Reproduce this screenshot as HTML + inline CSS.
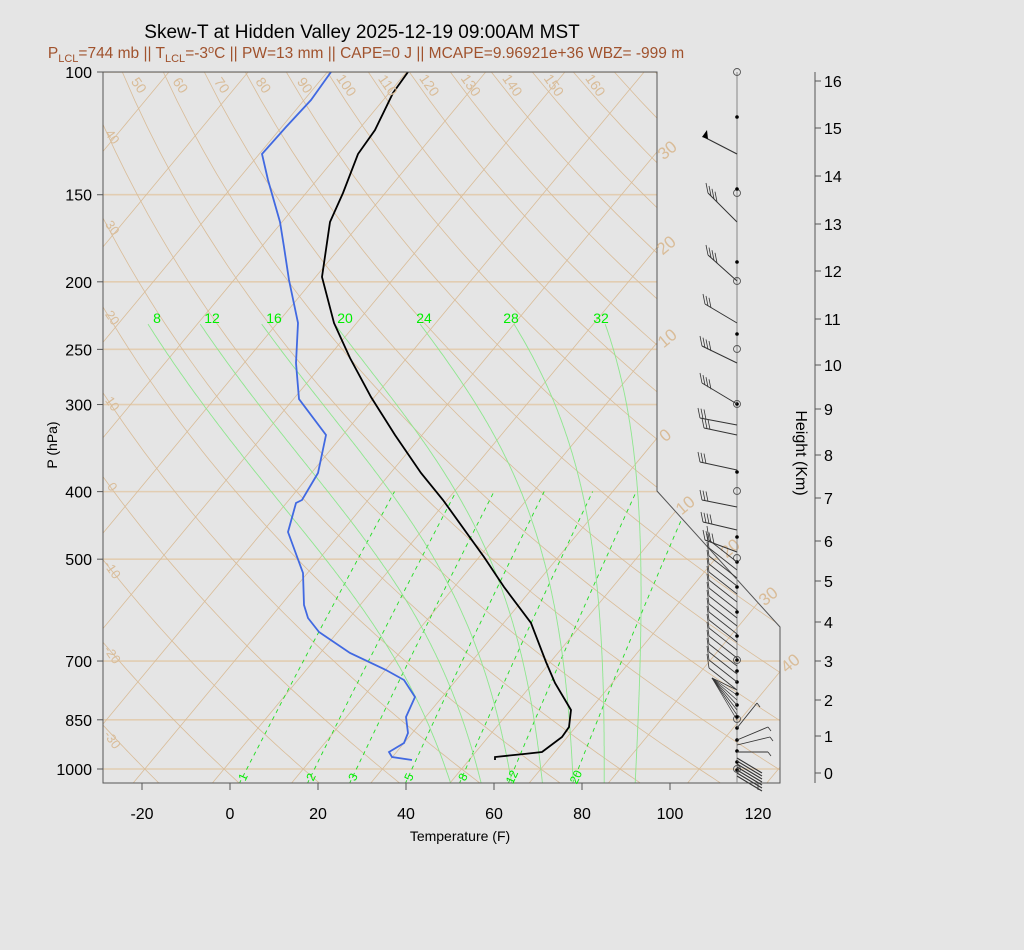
<!DOCTYPE html>
<html><head><meta charset="utf-8"><style>
html,body{margin:0;padding:0;background:#e5e5e5;}
svg{display:block;font-family:"Liberation Sans",sans-serif;}
</style></head><body>
<svg id="s" width="1024" height="950" viewBox="0 0 1024 950" xmlns="http://www.w3.org/2000/svg">
<rect width="1024" height="950" fill="#e5e5e5"/>
<defs><clipPath id="c"><polygon points="103,72 657,72 657,491 780,627 780,783 103,783"/></clipPath></defs>
<g id="grid" clip-path="url(#c)"></g>
<g id="fg"></g>
<text x="362" y="38" font-size="19" text-anchor="middle" fill="#000">Skew-T at Hidden Valley 2025-12-19 09:00AM MST</text>
<text x="366" y="58" font-size="15.5" text-anchor="middle" fill="#a0522d">P<tspan font-size="11" dy="4">LCL</tspan><tspan dy="-4">=744 mb || T</tspan><tspan font-size="11" dy="4">LCL</tspan><tspan dy="-4">=-3</tspan><tspan font-size="11" dy="-5">o</tspan><tspan dy="5">C || PW=13 mm || CAPE=0 J || MCAPE=9.96921e+36 WBZ= -999 m</tspan></text>
</svg>
<script>
var NS="http://www.w3.org/2000/svg";
var g=document.getElementById('grid'),fg=document.getElementById('fg');
function el(par,t,a,txt){var e=document.createElementNS(NS,t);for(var k in a)e.setAttribute(k,a[k]);if(txt!==undefined)e.textContent=txt;par.appendChild(e);return e;}
function Y(p){return 72+302.7*Math.log(p/100);}
function X(Tc,y){return 230+4.4*(Tc*1.8+32)+(783-y)*0.83;}
function pl(par,pts,st){el(par,'polyline',Object.assign({points:pts.map(function(q){return q[0].toFixed(1)+','+q[1].toFixed(1)}).join(' '),fill:'none'},st));}
var tan='#d9bc98';
[100,150,200,250,300,400,500,700,850,1000].forEach(function(p){var y=Y(p);el(g,'line',{x1:103,y1:y,x2:790,y2:y,stroke:'#e2cdb2','stroke-width':1.6});});
for(var t=-160;t<=60;t+=10){el(g,'line',{x1:X(t,783),y1:783,x2:X(t,72),y2:72,stroke:tan,'stroke-width':0.8});}
for(var th=-60;th<=220;th+=10){var pts=[];for(var p=1050;p>=100;p-=10){var T=(th+273.15)*Math.pow(p/1000,0.286)-273.15;var y=Y(p);pts.push([X(T,y),y]);}pl(g,pts,{stroke:tan,'stroke-width':0.8});}
function es(T){return 6.112*Math.exp(17.67*T/(T+243.5));}
[1,2,3,5,8,12,20].forEach(function(w){var pts=[];for(var p=1050;p>=400;p-=10){var e=w*p/(622+w);var l=Math.log(e/6.112);var Td=243.5*l/(17.67-l);var y=Y(p);pts.push([X(Td,y),y]);}pl(g,pts,{stroke:'#22dd22','stroke-width':0.9,'stroke-dasharray':'4,4'});});
[8,12,16,20,24,28,32].forEach(function(tw){var Rd=287,cp=1005,Lv=2.5e6;function dTdp(T,p){var Tc=T-273.15;var e=es(Tc);var r=0.622*e/(p-e);return (Rd*T+Lv*r)/(p*(cp+Lv*Lv*r*0.622/(Rd*T*T)));}
var T=tw+273.15;var up=[];for(var p=1000;p>=230;p-=2){var y=Y(p);up.push([X(T-273.15,y),y]);T-=2*dTdp(T,p);}
T=tw+273.15;var dn=[];for(var p=1000;p<=1050;p+=2){var y=Y(p);dn.push([X(T-273.15,y),y]);T+=2*dTdp(T,p);}
pl(g,dn.reverse().concat(up),{stroke:'#8ee68e','stroke-width':0.9});});
var tp=[[408,72],[393,93],[375,130],[358,154],[343,193],[330,222],[322,277],[334,323],[350,358],[371,397],[395,435],[421,473],[443,500],[484,557],[504,587],[531,623],[546,662],[555,683],[571,710],[569,727],[562,737],[542,752],[524,754],[495,757],[495,760]];
var dp=[[331,72],[311,100],[286,127],[262,154],[268,180],[280,222],[284,247],[289,280],[298,323],[296,363],[299,399],[326,435],[318,473],[302,500],[296,503],[288,532],[303,573],[304,605],[308,618],[319,632],[350,653],[386,670],[404,680],[415,697],[406,717],[408,733],[404,743],[389,752],[392,757],[412,760]];
pl(g,dp,{stroke:'#4169e1','stroke-width':1.8});
pl(g,tp,{stroke:'#000','stroke-width':1.8});
el(fg,'polygon',{points:'103,72 657,72 657,491 780,627 780,783 103,783',fill:'none',stroke:'#555','stroke-width':1});
function tx(x,y,s,a){return el(fg,'text',Object.assign({x:x,y:y,'font-size':16,'text-anchor':'middle'},a||{}),String(s));}
var tops=[50,60,70,80,90,100,110,120,130,140,150,160];tops.forEach(function(v,i){var x=135+i*41.5;tx(x,88,v,{fill:tan,'font-size':14,transform:'rotate(55 '+x+' 88)'});});
[[40,137],[30,228],[20,318],[10,404],[0,487],[-10,570],[-20,655],[-30,740]].forEach(function(a){tx(112,a[1]+4,a[0],{fill:tan,'font-size':13,transform:'rotate(55 112 '+a[1]+')'});});
[[30,667,150],[20,666,245],[10,667,338],[0,665,435],[10,685,505],[20,730,548],[30,768,596],[40,790,663]].forEach(function(a){tx(a[1],a[2]+6,a[0],{fill:tan,'font-size':17,transform:'rotate(-40 '+a[1]+' '+a[2]+')'});});
[[8,157],[12,212],[16,274],[20,345],[24,424],[28,511],[32,601]].forEach(function(a){tx(a[1],323,a[0],{fill:'#00ee00','font-size':14});});
[[1,243],[2,311],[3,353],[5,409],[8,463],[12,512],[20,576]].forEach(function(a){tx(a[1],781,a[0],{fill:'#00ee00','font-size':12,transform:'rotate(-65 '+a[1]+' 777)'});});
[100,150,200,250,300,400,500,700,850,1000].forEach(function(p){var y=Y(p);el(fg,'line',{x1:97,y1:y,x2:103,y2:y,stroke:'#555'});tx(92,y+6,p,{'text-anchor':'end'});});
tx(57,445,'P (hPa)',{'font-size':14,transform:'rotate(-90 57 445)'});
[-20,0,20,40,60,80,100,120].forEach(function(t){var x=230+4.4*t;el(fg,'line',{x1:x,y1:783,x2:x,y2:790,stroke:'#555'});tx(x,819,t);});
tx(460,841,'Temperature (F)',{'font-size':14});
el(fg,'line',{x1:815,y1:72,x2:815,y2:783,stroke:'#555'});
var hy=[773,736,700,661,622,581,541,498,455,409,365,319,271,224,176,128,81];
hy.forEach(function(y,i){el(fg,'line',{x1:815,y1:y,x2:821,y2:y,stroke:'#555'});tx(824,y+6,i,{'text-anchor':'start'});});
tx(796,453,'Height (Km)',{'font-size':16,transform:'rotate(90 796 453)'});
el(fg,'line',{x1:737,y1:72,x2:737,y2:783,stroke:'#888','stroke-width':1});
[72,193,281,349,404,491,558,660,719,769].forEach(function(y){el(fg,'circle',{cx:737,cy:y,r:3.5,fill:'none',stroke:'#555','stroke-width':0.9});});
[117,189,262,334,404,472,537,562,587,612,636,660,671,682,694,705,717,728,740,751,762,770].forEach(function(y){el(fg,'circle',{cx:737,cy:y,r:1.8,fill:'#000'});});
var bc='#333';
function ln(a,b,c,d,w){el(fg,'line',{x1:a,y1:b,x2:c,y2:d,stroke:bc,'stroke-width':w||1});}
ln(737,154,704,137,1.2);el(fg,'polygon',{points:'702,137 707,130 708,139',fill:'#000'});
[[222,708,193,4],[281,708,255,4],[323,705,304,3],[363,702,346,4],[404,702,383,4],[425,700,418,3],[435,704,428,3],[470,700,462,3],[507,702,500,3],[530,703,522,4],[552,705,540,4]].forEach(function(b){ln(737,b[0],b[1],b[2],1);for(var i=0;i<b[3];i++){var x=b[1]+i*3,y=b[2]+i*(b[0]-b[2])/30*3;ln(x,y,x-2,y-10,0.8);}});
for(var y0=562;y0<=690;y0+=8){ln(737,y0,709,y0-22,0.8);ln(709,y0-22,707,y0-36,0.8);}
for(var y0=690;y0<=722;y0+=5){ln(737,y0,712,678,0.7);}
[[728,757,703],[740,768,727],[745,770,737],[752,768,752]].forEach(function(b){ln(737,b[0],b[1],b[2],0.9);ln(b[1],b[2],b[1]+3,b[2]+4,0.8);});
for(var y0=758;y0<=776;y0+=3){ln(737,y0,762,y0+15,1.1);}
</script>
</body></html>
